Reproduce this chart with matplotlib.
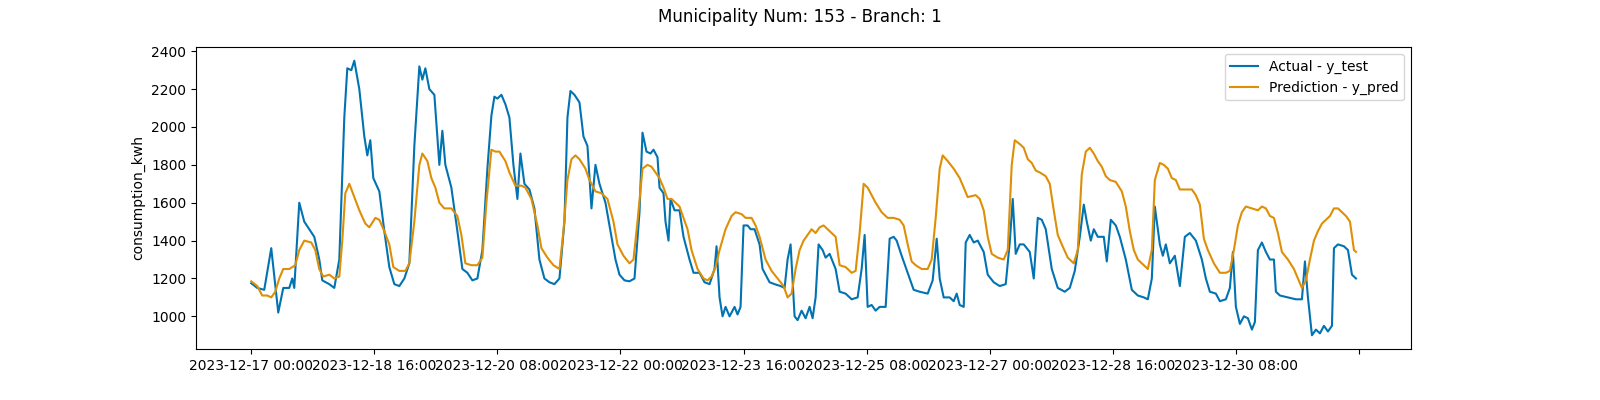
import numpy as np
import matplotlib.pyplot as plt

# Values read off the reference chart. Positions were measured on the chart's
# time axis (0 = 2023-12-17 00:00, 3.075 units per hour) and converted to hours below.
actual_pos = [252, 258, 265, 272, 279, 284, 290, 293, 295, 300, 305, 315, 320, 323, 330, 335,
              340, 345, 348, 352, 355, 360, 365, 368, 371, 374, 380, 385, 390, 395, 400, 405, 410,
              415, 420, 423, 426, 430, 435, 440, 443, 446, 452, 458, 463, 468, 473, 478, 483, 488,
              492, 495, 498, 502, 506, 510, 514, 518, 521, 525, 530, 535, 540, 545, 550, 555, 560,
              565, 568, 571, 575, 580, 584, 588, 592, 596, 600, 606, 611, 616, 620, 625, 630, 635,
              640, 643, 647, 651, 654, 658, 660, 664, 666, 669, 671, 675, 680, 684, 690, 694, 700,
              705, 710, 715, 717, 720, 723, 726, 730, 735, 738, 741, 744, 748, 751, 755, 760, 763,
              770, 775, 781, 785, 788, 791, 795, 798, 802, 806, 810, 813, 816, 819, 823, 826, 830,
              836, 840, 846, 852, 858, 862, 865, 868, 872, 876, 880, 886, 890, 894, 897, 902, 910,
              914, 920, 928, 933, 937, 940, 944, 950, 954, 957, 960, 964, 966, 970, 974, 978, 984,
              988, 994, 1000, 1006, 1010, 1013, 1016, 1020, 1024, 1030, 1034, 1038, 1042, 1046,
              1052, 1058, 1065, 1070, 1075, 1080, 1084, 1087, 1091, 1094, 1098, 1104, 1107, 1111,
              1116, 1120, 1126, 1132, 1138, 1144, 1148, 1152, 1155, 1160, 1163, 1166, 1170, 1175,
              1180, 1185, 1190, 1196, 1202, 1206, 1210, 1216, 1220, 1226, 1230, 1233, 1236, 1240,
              1244, 1248, 1252, 1255, 1258, 1262, 1266, 1270, 1274, 1276, 1280, 1288, 1296, 1302,
              1305, 1308, 1312, 1316, 1320, 1324, 1328, 1332, 1334, 1338, 1344, 1348, 1352, 1356]
actual_kwh = [1175, 1150, 1140, 1360, 1020, 1150, 1150, 1200, 1150, 1600, 1500, 1420, 1300, 1190, 1170, 1150,
              1300, 2050, 2310, 2300, 2350, 2200, 1950, 1850, 1930, 1730, 1660, 1450, 1260, 1170, 1160, 1200, 1280,
              1900, 2320, 2250, 2310, 2200, 2170, 1800, 1980, 1800, 1680, 1450, 1250, 1230, 1190, 1200, 1350, 1780,
              2060, 2160, 2150, 2170, 2120, 2050, 1800, 1620, 1860, 1700, 1670, 1570, 1300, 1200, 1180, 1170, 1200,
              1500, 2050, 2190, 2170, 2130, 1950, 1900, 1570, 1800, 1700, 1600, 1450, 1300, 1220, 1190, 1185, 1200,
              1550, 1970, 1870, 1860, 1880, 1840, 1680, 1650, 1500, 1400, 1620, 1560, 1560, 1420, 1300, 1230, 1230,
              1180, 1170, 1250, 1370, 1100, 1000, 1050, 1000, 1050, 1010, 1050, 1480, 1480, 1460, 1460, 1380, 1250,
              1180, 1170, 1160, 1150, 1300, 1380, 1000, 980, 1030, 990, 1050, 990, 1100, 1380, 1350, 1310, 1330,
              1250, 1130, 1120, 1090, 1100, 1250, 1430, 1050, 1060, 1030, 1050, 1050, 1410, 1420, 1400, 1320, 1200,
              1140, 1130, 1120, 1190, 1410, 1200, 1100, 1100, 1080, 1120, 1060, 1050, 1390, 1430, 1390, 1400, 1340,
              1220, 1180, 1160, 1170, 1390, 1620, 1330, 1380, 1380, 1340, 1200, 1520, 1510, 1460,
              1250, 1150, 1130, 1150, 1240, 1420, 1590, 1500, 1400, 1460, 1420, 1420, 1290, 1510,
              1480, 1420, 1300, 1140, 1110, 1100, 1090, 1200, 1580, 1380, 1320, 1380, 1280, 1320,
              1160, 1420, 1440, 1400, 1300, 1200, 1130, 1120, 1080, 1090, 1150, 1340, 1050, 960,
              1000, 990, 930, 970, 1350, 1390, 1340, 1300, 1300, 1130, 1110, 1100, 1090, 1090,
              1290, 1100, 900, 930, 910, 950, 920, 950, 1360, 1380, 1370, 1350, 1220, 1200]

pred_pos = [252, 258, 263, 268, 272, 276, 280, 284, 290, 296, 300, 305, 312, 316, 320, 324, 330, 335,
            340, 343, 346, 350, 355, 360, 366, 370, 376, 380, 385, 390, 394, 400, 406, 410, 415, 420,
            423, 428, 432, 436, 440, 445, 452, 458, 462, 466, 472, 478, 483, 487, 492, 496, 500, 506,
            510, 516, 522, 526, 532, 538, 542, 548, 554, 560, 564, 568, 572, 576, 580, 586, 590, 596,
            602, 608, 614, 618, 624, 630, 634, 638, 643, 648, 652, 656, 660, 664, 668, 672, 676, 680,
            684, 688, 692, 698, 704, 708, 712, 716, 720, 726, 732, 736, 742, 746, 752, 756, 760, 766,
            772, 778, 784, 788, 792, 796, 800, 804, 808, 812, 816, 820, 824, 828, 832, 836, 840, 846,
            852, 856, 860, 864, 868, 872, 876, 882, 888, 894, 900, 904, 908, 912, 916, 922, 928, 932,
            936, 940, 943, 948, 954, 960, 964, 968, 976, 980, 984, 988, 992, 998, 1004, 1008, 1012,
            1015, 1020, 1024, 1028, 1032, 1036, 1040, 1046, 1050, 1054, 1058, 1062, 1068, 1074, 1078,
            1082, 1086, 1090, 1094, 1098, 1102, 1106, 1110, 1116, 1122, 1126, 1130, 1134, 1138, 1144,
            1148, 1152, 1155, 1160, 1164, 1168, 1172, 1176, 1180, 1186, 1192, 1196, 1200, 1204, 1208,
            1214, 1220, 1226, 1230, 1234, 1238, 1242, 1246, 1252, 1258, 1262, 1266, 1270, 1274, 1278,
            1282, 1288, 1294, 1298, 1302, 1306, 1310, 1314, 1318, 1322, 1326, 1330, 1334, 1338, 1342,
            1346, 1350, 1354, 1356]
pred_kwh = [1185, 1160, 1110, 1110, 1100, 1130, 1200, 1250, 1250, 1270, 1350, 1400, 1390, 1350, 1250, 1210, 1220, 1200,
            1210, 1400, 1650, 1700, 1630, 1560, 1490, 1470, 1520, 1510, 1450, 1380, 1260, 1240, 1240, 1280, 1500, 1800,
            1860, 1820, 1730, 1680, 1600, 1570, 1570, 1530, 1430, 1280, 1270, 1270, 1310, 1600, 1880, 1870, 1870, 1820,
            1760, 1690, 1690, 1680, 1620, 1480, 1360, 1310, 1270, 1250, 1450, 1720, 1830, 1850, 1830, 1780, 1720, 1660,
            1650, 1620, 1500, 1380, 1320, 1280, 1300, 1500, 1780, 1800, 1790, 1760, 1730, 1680, 1620, 1620, 1600, 1580,
            1520, 1460, 1350, 1250, 1200, 1190, 1210, 1260, 1350, 1460, 1530, 1550, 1540, 1520, 1520, 1480, 1420, 1300,
            1240, 1200, 1160, 1100, 1120, 1250, 1350, 1400, 1430, 1460, 1440, 1470, 1480, 1460, 1440, 1420, 1270, 1260,
            1230, 1240, 1440, 1700, 1680, 1640, 1600, 1550, 1520, 1520, 1510, 1480, 1380, 1290, 1270, 1250, 1250, 1300,
            1520, 1780, 1850, 1820, 1780, 1730, 1680, 1630, 1640, 1620, 1560, 1420, 1330, 1310, 1300, 1350, 1800,
            1930, 1910, 1890, 1830, 1810, 1770, 1760, 1740, 1700, 1560, 1430, 1380, 1310, 1280, 1350,
            1750, 1870, 1890, 1860, 1820, 1790, 1740, 1720, 1710, 1660, 1580, 1450, 1350, 1300, 1270,
            1250, 1350, 1720, 1810, 1800, 1780, 1730, 1720, 1670, 1670, 1670, 1640, 1590, 1410, 1350,
            1280, 1230, 1230, 1240, 1350, 1480, 1550, 1580, 1570, 1560, 1580, 1570, 1530, 1520, 1440,
            1340, 1300, 1250, 1200, 1150, 1190, 1300, 1400, 1450, 1490, 1510, 1530, 1570, 1570, 1550,
            1530, 1500, 1350, 1340]

tick_labels = ["2023-12-17 00:00", "2023-12-18 16:00", "2023-12-20 08:00", "2023-12-22 00:00",
               "2023-12-23 16:00", "2023-12-25 08:00", "2023-12-27 00:00", "2023-12-28 16:00",
               "2023-12-30 08:00", ""]

actual_h = (np.array(actual_pos) - 252) / 3.075
pred_h = (np.array(pred_pos) - 252) / 3.075

fig, ax = plt.subplots(figsize=(16, 4), dpi=100)
fig.subplots_adjust(left=0.1225, right=0.882, top=0.8825, bottom=0.1275)

ax.plot(actual_h, actual_kwh, color='#0173b2', linewidth=1.5, label='Actual - y_test')
ax.plot(pred_h, pred_kwh, color='#de8f05', linewidth=1.5, label='Prediction - y_pred')

ax.set_xticks(np.arange(0, 400, 40))
ax.set_xticklabels(tick_labels)
ax.set_ylabel('consumption_kwh')
ax.legend(loc='upper right')
fig.suptitle('Municipality Num: 153 - Branch: 1')

plt.savefig('out.png', dpi=100)
